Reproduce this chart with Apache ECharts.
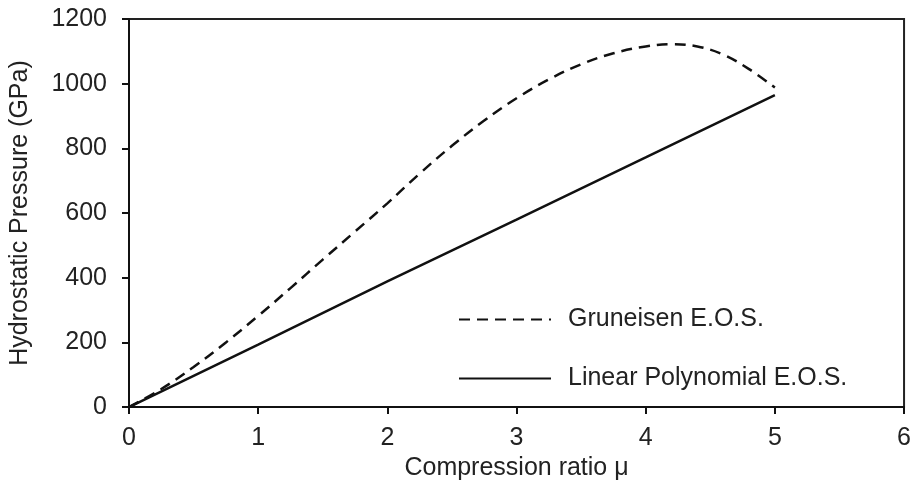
<!DOCTYPE html>
<html>
<head>
<meta charset="utf-8">
<script src="https://cdn.jsdelivr.net/npm/echarts@6/dist/echarts.min.js"></script>
<style>html,body{margin:0;padding:0;background:#fff}#c{width:914px;height:486px}</style>
</head>
<body>
<div id="c"></div>
<script>
const xTicks = [0, 1, 2, 3, 4, 5, 6];
const yTicks = [0, 200, 400, 600, 800, 1000, 1200];
const gruneisenMu = [0, 0.25, 0.5, 0.75, 1, 1.25, 1.5, 1.75, 2, 2.25, 2.5, 2.75, 3, 3.25, 3.5, 3.75, 4, 4.2, 4.4, 4.6, 4.8, 5];
const gruneisenP = [0, 56, 124, 200, 282, 368, 456, 543, 630, 722, 808, 886, 955, 1013, 1060, 1094, 1115, 1122, 1115, 1090, 1045, 988];
const linearMu = [0, 1, 2, 3, 4, 5];
const linearP = [0, 193, 389, 580, 772, 965];
const seriesNames = ['Gruneisen E.O.S.', 'Linear Polynomial E.O.S.'];

const font = 'Liberation Sans, Arial, sans-serif';
const txt = '#222';
const chart = echarts.init(document.getElementById('c'), null, {renderer: 'canvas'});
chart.setOption({
  animation: false,
  backgroundColor: '#fff',
  grid: {left: 128, right: 7, top: 19, bottom: 69, show: true, borderColor: '#222', borderWidth: 2, containLabel: false},
  legend: {
    orient: 'vertical', left: 453, top: 302, itemWidth: 92, itemHeight: 14, itemGap: 34,
    data: seriesNames,
    itemStyle: {opacity: 0},
    textStyle: {fontFamily: font, fontSize: 25, color: txt, padding: [0, 0, 0, 12]}
  },
  xAxis: {
    type: 'value', min: xTicks[0], max: xTicks[xTicks.length - 1], interval: 1,
    name: 'Compression ratio μ', nameLocation: 'middle', nameGap: 38,
    nameTextStyle: {fontFamily: font, fontSize: 25, color: txt},
    axisLine: {lineStyle: {color: '#111', width: 2}},
    axisTick: {inside: false, length: 7, lineStyle: {color: '#111', width: 2}},
    axisLabel: {fontFamily: font, fontSize: 25, color: txt, margin: 19},
    splitLine: {show: false}
  },
  yAxis: {
    type: 'value', min: yTicks[0], max: yTicks[yTicks.length - 1], interval: 200,
    name: 'Hydrostatic Pressure (GPa)', nameLocation: 'middle', nameGap: 96,
    nameTextStyle: {fontFamily: font, fontSize: 25, color: txt},
    axisLine: {show: true, lineStyle: {color: '#111', width: 2}},
    axisTick: {show: true, inside: false, length: 7, lineStyle: {color: '#111', width: 2}},
    axisLabel: {fontFamily: font, fontSize: 25, color: txt, margin: 22, formatter: v => String(v)},
    splitLine: {show: false}
  },
  series: [
    {
      name: seriesNames[0], type: 'line', smooth: 0.4, symbol: 'none',
      data: gruneisenMu.map((m, i) => [m, gruneisenP[i]]),
      lineStyle: {color: '#111', width: 2.5, type: [11, 7]},
      itemStyle: {color: '#111'}
    },
    {
      name: seriesNames[1], type: 'line', symbol: 'none',
      data: linearMu.map((m, i) => [m, linearP[i]]),
      lineStyle: {color: '#111', width: 2.5, type: 'solid'},
      itemStyle: {color: '#111'}
    }
  ]
});
</script>
</body>
</html>
